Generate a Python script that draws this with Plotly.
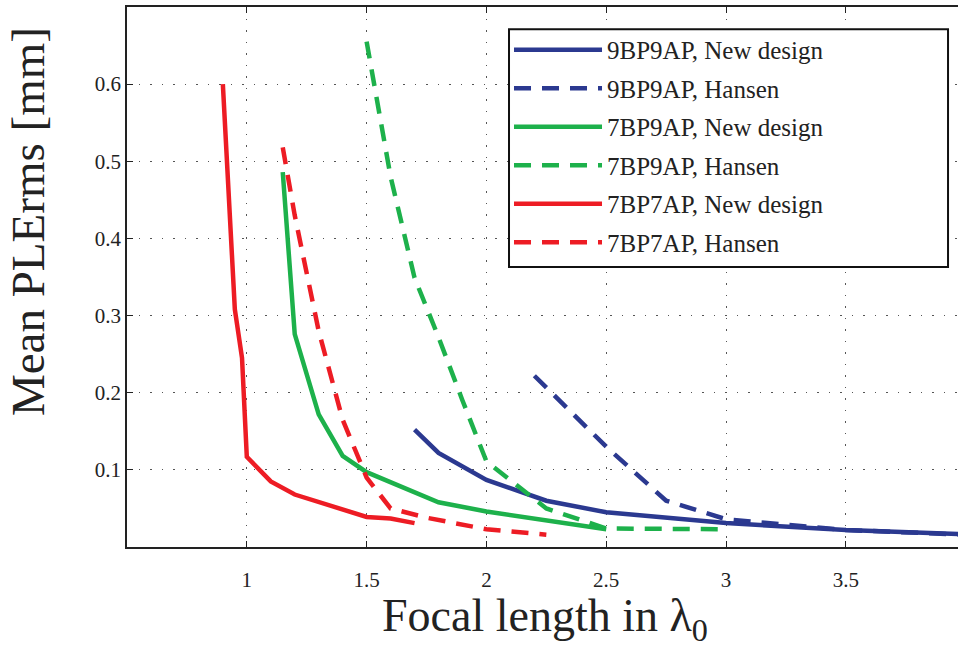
import plotly.graph_objects as go

# 9BP9AP
x_9_new = [1.7, 1.8, 2.0, 2.25, 2.5, 3.0, 3.5, 4.0]
y_9_new = [0.152, 0.122, 0.087, 0.060, 0.045, 0.031, 0.022, 0.0165]
x_9_han = [2.2, 2.5, 2.75, 3.0, 3.5, 4.0]
y_9_han = [0.222, 0.130, 0.060, 0.036, 0.022, 0.016]
# 7BP9AP
x_79_new = [1.15, 1.2, 1.3, 1.4, 1.5, 1.8, 2.0, 2.5]
y_79_new = [0.486, 0.276, 0.172, 0.118, 0.097, 0.058, 0.046, 0.023]
x_79_han = [1.5, 1.6, 1.7, 1.8, 1.9, 2.0, 2.25, 2.5, 3.0]
y_79_han = [0.655, 0.480, 0.349, 0.272, 0.190, 0.111, 0.050, 0.024, 0.023]
# 7BP7AP
x_77_new = [0.9, 0.95, 0.98, 1.0, 1.1, 1.2, 1.5, 1.6, 1.7]
y_77_new = [0.600, 0.308, 0.245, 0.117, 0.085, 0.068, 0.039, 0.037, 0.031]
x_77_han = [1.15, 1.2, 1.3, 1.4, 1.5, 1.6, 1.75, 2.0, 2.25]
y_77_han = [0.518, 0.430, 0.280, 0.165, 0.090, 0.050, 0.038, 0.023, 0.016]

names = ["9BP9AP, New design", "9BP9AP, Hansen",
         "7BP9AP, New design", "7BP9AP, Hansen",
         "7BP7AP, New design", "7BP7AP, Hansen"]

x_ticks = [1, 1.5, 2, 2.5, 3, 3.5]
x_ticktext = ["1", "1.5", "2", "2.5", "3", "3.5"]
y_ticks = [0.1, 0.2, 0.3, 0.4, 0.5, 0.6]
y_ticktext = ["0.1", "0.2", "0.3", "0.4", "0.5", "0.6"]

BLUE = "#2b3990"
GREEN = "#1db14b"
RED = "#ed1c24"
DASH = "17px,11px"
SERIF = "Liberation Serif"
INK = "#222"

series = [
    (x_9_new, y_9_new, BLUE, "solid"),
    (x_9_han, y_9_han, BLUE, DASH),
    (x_79_new, y_79_new, GREEN, "solid"),
    (x_79_han, y_79_han, GREEN, DASH),
    (x_77_new, y_77_new, RED, "solid"),
    (x_77_han, y_77_han, RED, DASH),
]

fig = go.Figure()
for i, (xs, ys, c, d) in enumerate(series):
    fig.add_trace(go.Scatter(x=xs, y=ys, mode="lines", name=names[i],
                             legendgroup=f"g{i}",
                             line=dict(color=c, width=4.5, dash=d)))

# legend frame (paper coordinates of the plot area)
fig.add_shape(type="rect", xref="paper", yref="paper",
              x0=0.4597, x1=0.988, y0=0.5185, y1=0.959,
              line=dict(color="#111", width=2), fillcolor="white", layer="above")

tickfont = dict(family=SERIF, size=21, color=INK)
titlefont = dict(family=SERIF, size=47, color=INK)
fig.update_layout(
    width=958, height=645,
    margin=dict(l=127, r=0, t=7, b=98),
    paper_bgcolor="white", plot_bgcolor="white",
    showlegend=True,
    legend=dict(x=0.4597, y=0.963, xanchor="left", yanchor="top",
                bgcolor="rgba(0,0,0,0)", borderwidth=0,
                font=dict(family=SERIF, size=25, color=INK),
                traceorder="grouped", tracegroupgap=3,
                itemwidth=88),
    xaxis=dict(range=[0.5, 3.968],
               tickvals=x_ticks, ticktext=x_ticktext,
               ticks="inside", ticklen=6, tickcolor=INK,
               showline=True, linecolor=INK, linewidth=1.5, mirror="ticks",
               showgrid=True, gridcolor="#555", gridwidth=1, griddash="1.5px,10px",
               zeroline=False, tickfont=tickfont, ticklabelstandoff=13),
    yaxis=dict(range=[0, 0.7],
               tickvals=y_ticks, ticktext=y_ticktext,
               ticks="inside", ticklen=6, tickcolor=INK,
               showline=True, linecolor=INK, linewidth=1.5,
               showgrid=True, gridcolor="#555", gridwidth=1, griddash="1.5px,10px",
               zeroline=False, tickfont=tickfont),
    annotations=[
        dict(text="Mean PLErms [mm]", textangle=-90,
             xref="paper", yref="paper", x=-0.119, y=0.602,
             xanchor="center", yanchor="middle", showarrow=False, font=titlefont),
        dict(text="Focal length in λ<sub>0</sub>",
             xref="paper", yref="paper", x=0.5035, y=-0.134,
             xanchor="center", yanchor="middle", showarrow=False,
             font=dict(family=SERIF, size=46, color=INK)),
    ],
)

fig.write_html("out.html")
